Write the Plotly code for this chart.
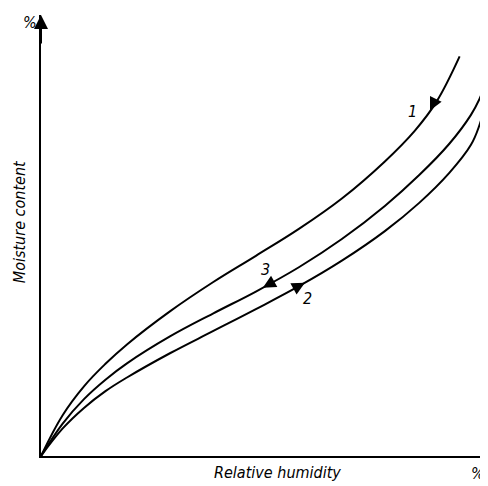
import numpy as np
import plotly.graph_objects as go

# sorption curves (x: relative humidity %, y: moisture content, arbitrary)
x1 = [0, 5, 10, 15, 20, 30, 40, 50, 60, 70, 80, 87, 92, 97.4]
y1 = [0, 9.2, 15.8, 20.9, 25.3, 32.8, 39.4, 45.4, 51.5, 58.4, 66.8, 73.8, 80.3, 90.6]

x3 = [0, 5, 10, 15, 20, 30, 40, 50, 60, 70, 80, 88, 95, 100, 102, 104]
y3 = [0, 7.3, 12.9, 17.3, 21.0, 27.1, 32.3, 37.3, 42.8, 49.2, 56.7, 63.7, 70.8, 77.3, 80.9, 86.1]

x2 = [0, 5, 10, 15, 20, 30, 40, 50, 60, 70, 80, 88, 95, 100, 102, 104]
y2 = [0, 6.2, 10.9, 14.7, 17.8, 23.3, 28.3, 33.3, 38.5, 44.3, 51.0, 57.4, 64.2, 70.5, 75.0, 82.0]

curve_labels = ["1", "3", "2"]
arrow_x = [90.5, 51.6, 61.4]

FONT = dict(family="DejaVu Sans Condensed", size=16, color="black", style="italic")

fig = go.Figure()
for xs, ys in [(x1, y1), (x3, y3), (x2, y2)]:
    fig.add_trace(go.Scatter(x=xs, y=ys, mode="lines",
                             line=dict(color="black", width=2, shape="spline", smoothing=1.1),
                             hoverinfo="skip", showlegend=False))

# direction arrows on the curves (tail offsets in px)
tails = [(6, -12), (11, -6), (-11, 6)]
for (xs, ys), ax_, (tx, ty) in zip([(x1, y1), (x3, y3), (x2, y2)], arrow_x, tails):
    fig.add_annotation(x=ax_, y=float(np.interp(ax_, xs, ys)), ax=tx, ay=ty, text="",
                       showarrow=True, arrowhead=2, arrowsize=1.3, arrowwidth=2, arrowcolor="black")

# curve numbers
label_pos = [(86.5, 78.2), (52.3, 42.2), (62.1, 35.8)]
for lab, (lx, ly) in zip(curve_labels, label_pos):
    fig.add_annotation(x=lx, y=ly, text=lab, showarrow=False, font=FONT)

# y axis arrow
fig.add_annotation(x=0, y=100, ax=0, ay=30, text="", showarrow=True, arrowhead=2,
                   arrowsize=1.4, arrowwidth=2, arrowcolor="black")

# axis texts
axis_text = dict(xref="paper", yref="paper", showarrow=False, font=FONT, xanchor="center", yanchor="middle")
fig.add_annotation(x=0.53, y=0, yshift=-16, text="Relative humidity", **axis_text)
fig.add_annotation(x=0, y=0.53, xshift=-22, text="Moisture content", textangle=-90, **axis_text)
fig.add_annotation(x=0, y=0.984, xshift=-11, text="%", **axis_text)
fig.add_annotation(x=0.978, y=0, yshift=-17, text="%", **axis_text)

# page body adds ~8px offset, so the figure is a bit smaller than the window
fig.update_layout(
    width=480, height=478,
    margin=dict(l=33, r=0, t=7, b=30),
    plot_bgcolor="white", paper_bgcolor="white",
    xaxis=dict(range=[0, 104], showgrid=False, zeroline=False, showticklabels=False,
               showline=True, linecolor="black", linewidth=2, ticks=""),
    yaxis=dict(range=[0, 100], showgrid=False, zeroline=False, showticklabels=False,
               showline=True, linecolor="black", linewidth=2, ticks=""),
)

fig.write_html("out.html")
